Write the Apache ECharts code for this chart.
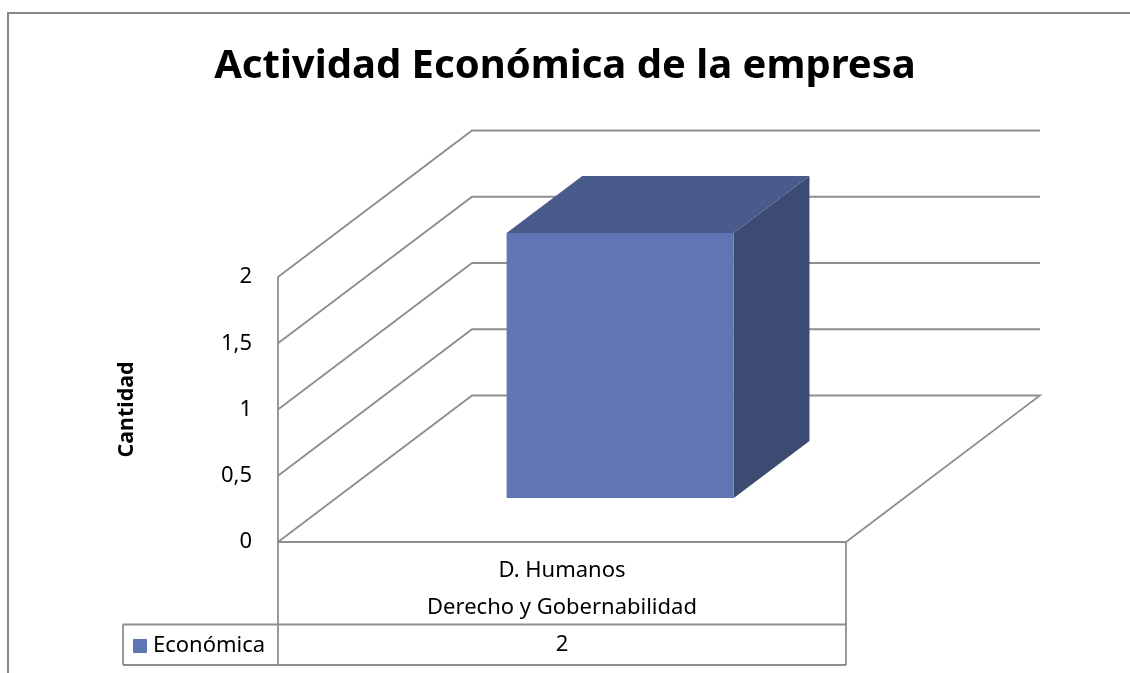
<!DOCTYPE html>
<html>
<head>
<meta charset="utf-8">
<script src="https://cdn.jsdelivr.net/npm/echarts@6/dist/echarts.min.js"></script>
<style>
html,body{margin:0;padding:0;background:#fff;}
#chart{width:1130px;height:673px;}
</style>
</head>
<body>
<div id="chart"></div>
<script>
// ---- data ----
var titleText = 'Actividad Económica de la empresa';
var yAxisTitle = 'Cantidad';
var categories = ['D. Humanos'];
var categoryGroups = ['Derecho y Gobernabilidad'];
var seriesName = 'Económica';
var values = [2];
var yTicks = [0, 0.5, 1, 1.5, 2];

// ---- helpers ----
var FONT = 'Noto Sans';
function fitSize(text, weight, target) {
  var c = document.createElement('canvas').getContext('2d');
  c.font = weight + ' 100px "' + FONT + '"';
  return 100 * target / c.measureText(text).width;
}
var titleSize = fitSize(titleText, 'bold', 702);
var nameSize = fitSize(yAxisTitle, 'bold', 96);
var TXT = 22;

// 3D projection constants (pixel depth of the plot box)
var DX = 194, DY = -146.5;
var F1 = 0.30, F2 = 0.69; // bar front / back depth fractions
var GRID_COL = '#8e8e8e';
var LW = 1.8;
var FRONT = '#6076B4', TOP = '#485B8A', SIDE = '#3D4A72';

var chart = echarts.init(document.getElementById('chart'));

var option = {
  backgroundColor: '#ffffff',
  animation: false,
  title: {
    text: titleText,
    left: 'center',
    top: 74 - titleSize * 0.68,
    padding: 0,
    textStyle: { fontFamily: FONT, fontWeight: 'bold', fontSize: titleSize, color: '#000' }
  },
  legend: {
    data: [seriesName],
    left: 133, top: 635,
    padding: 0,
    icon: 'rect', itemWidth: 14, itemHeight: 14, itemGap: 5,
    textStyle: { fontFamily: FONT, fontSize: TXT, color: '#000', padding: [0, 0, 0, 1] }
  },
  grid: { left: 278, top: 277, width: 568, height: 265 },
  xAxis: {
    type: 'category',
    data: categories,
    axisLine: { show: true, lineStyle: { color: GRID_COL, width: LW } },
    axisTick: { show: false },
    axisLabel: {
      margin: 10,
      fontFamily: FONT, fontSize: TXT, color: '#000', lineHeight: 37,
      formatter: function (v, i) { return v + '\n' + categoryGroups[i]; }
    },
    splitLine: { show: false }
  },
  yAxis: {
    type: 'value',
    min: 0, max: 2, interval: 0.5,
    name: yAxisTitle,
    nameLocation: 'middle',
    nameRotate: 90,
    nameGap: 141,
    nameTextStyle: { fontFamily: FONT, fontWeight: 'bold', fontSize: nameSize, color: '#000' },
    axisLine: { show: true, lineStyle: { color: GRID_COL, width: LW } },
    axisTick: { show: false },
    axisLabel: {
      margin: 26, fontFamily: FONT, fontSize: TXT, color: '#000',
      formatter: function (v) { return String(v).replace('.', ','); }
    },
    splitLine: { show: false }
  },
  graphic: [
    // chart area border
    { type: 'rect', silent: true, z: 0,
      shape: { x: 8, y: 13, width: 1200, height: 700 },
      style: { fill: null, stroke: '#878787', lineWidth: 2 } },
    // data table lines
    { type: 'line', silent: true, shape: { x1: 278, y1: 542, x2: 278, y2: 665 }, style: { stroke: GRID_COL, lineWidth: LW } },
    { type: 'line', silent: true, shape: { x1: 846, y1: 542, x2: 846, y2: 665 }, style: { stroke: GRID_COL, lineWidth: LW } },
    { type: 'line', silent: true, shape: { x1: 123, y1: 624.5, x2: 846, y2: 624.5 }, style: { stroke: GRID_COL, lineWidth: LW } },
    { type: 'line', silent: true, shape: { x1: 123, y1: 665, x2: 846, y2: 665 }, style: { stroke: GRID_COL, lineWidth: LW } },
    { type: 'line', silent: true, shape: { x1: 123, y1: 624.5, x2: 123, y2: 665 }, style: { stroke: GRID_COL, lineWidth: LW } }
  ],
  series: [
    {
      // back wall grid + floor
      type: 'custom',
      name: 'walls',
      silent: true,
      clip: false,
      z: 1,
      data: yTicks.map(function (v) { return [0, v]; }),
      renderItem: function (params, api) {
        var cs = params.coordSys;
        var v = api.value(1);
        var y = api.coord([0, v])[1];
        var x0 = cs.x, x1 = cs.x + cs.width;
        var pts = [[x0, y], [x0 + DX, y + DY], [x1 + DX, y + DY]];
        if (v === 0) pts.push([x1, y]);
        return {
          type: 'polyline',
          shape: { points: pts },
          style: { stroke: GRID_COL, lineWidth: LW, fill: null }
        };
      }
    },
    {
      type: 'custom',
      name: seriesName,
      clip: false,
      z: 5,
      itemStyle: { color: FRONT },
      data: values.map(function (v, i) { return [i, v]; }),
      renderItem: function (params, api) {
        var cs = params.coordSys;
        var idx = api.value(0), val = api.value(1);
        var base = api.coord([idx, 0]);
        var top = api.coord([idx, val]);
        var hw = api.size([1, 0])[0] * 0.4 / 2;
        var fx = base[0] + F1 * DX, fdy = F1 * DY;
        var bx = base[0] + F2 * DX, bdy = F2 * DY;
        var fl = fx - hw, fr = fx + hw, bl = bx - hw, br = bx + hw;
        var fyT = top[1] + fdy, fyB = base[1] + fdy;
        var byT = top[1] + bdy, byB = base[1] + bdy;
        return {
          type: 'group',
          children: [
            { type: 'polygon', shape: { points: [[fr, fyT], [br, byT], [br, byB], [fr, fyB]] }, style: { fill: SIDE } },
            { type: 'polygon', shape: { points: [[fl, fyT], [bl, byT], [br, byT], [fr, fyT]] }, style: { fill: TOP } },
            { type: 'rect', shape: { x: fl, y: fyT, width: fr - fl, height: fyB - fyT }, style: { fill: FRONT } },
            { type: 'text', style: {
                text: String(val), x: base[0], y: cs.y + cs.height + 103,
                align: 'center', verticalAlign: 'middle',
                font: TXT + 'px "' + FONT + '"', fill: '#000' } }
          ]
        };
      }
    }
  ]
};
chart.setOption(option);
</script>
</body>
</html>
